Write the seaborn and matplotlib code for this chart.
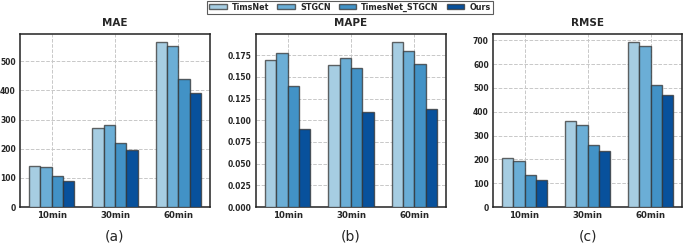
import numpy as np
import pandas as pd
import matplotlib
matplotlib.use("Agg")
import matplotlib.pyplot as plt
import seaborn as sns
from matplotlib.patches import Patch

horizons = ["10min", "30min", "60min"]
models = ["TimsNet", "STGCN", "TimesNet_STGCN", "Ours"]
colors = ["#a6cde2", "#6baed6", "#4292c6", "#08519c"]

mae_timsnet = [140, 270, 565]
mae_stgcn = [136, 282, 551]
mae_tstgcn = [105, 218, 439]
mae_ours = [90, 194, 390]

mape_timsnet = [0.170, 0.164, 0.190]
mape_stgcn = [0.178, 0.172, 0.180]
mape_tstgcn = [0.140, 0.160, 0.165]
mape_ours = [0.090, 0.110, 0.113]

rmse_timsnet = [205, 360, 692]
rmse_stgcn = [193, 344, 676]
rmse_tstgcn = [135, 260, 513]
rmse_ours = [113, 235, 470]

metrics = {
    "MAE": [mae_timsnet, mae_stgcn, mae_tstgcn, mae_ours],
    "MAPE": [mape_timsnet, mape_stgcn, mape_tstgcn, mape_ours],
    "RMSE": [rmse_timsnet, rmse_stgcn, rmse_tstgcn, rmse_ours],
}
panel_labels = ["(a)", "(b)", "(c)"]

sns.set_style("white")
plt.rcParams['font.family'] = ['DejaVu Sans']

fig = plt.figure(figsize=(6.85, 2.43), dpi=100)
lefts = [20, 256, 493]
rights = [210, 446, 682]
top_px, bot_px = 34, 207
W, H = 685, 243
edge = (0.2, 0.2, 0.2, 0.75)

for i, (name, series) in enumerate(metrics.items()):
    ax = fig.add_axes([lefts[i] / W, 1 - bot_px / H,
                       (rights[i] - lefts[i]) / W, (bot_px - top_px) / H])
    rows = []
    for m, vals in zip(models, series):
        for h, v in zip(horizons, vals):
            rows.append({"horizon": h, "model": m, "value": v})
    df = pd.DataFrame(rows)
    sns.barplot(data=df, x="horizon", y="value", hue="model", hue_order=models,
                order=horizons, palette=colors, saturation=1, width=0.72, ax=ax,
                edgecolor=edge, linewidth=1.0, legend=False,
                errorbar=None, zorder=3)
    ymax = max(max(s) for s in series)
    ax.set_ylim(0, ymax * 1.05)
    ax.set_xlim(-0.5, 2.5)
    ax.grid(True, linestyle="--", color="#c8c8c8", linewidth=0.7, zorder=0)
    ax.set_axisbelow(True)
    ax.set_xlabel("")
    ax.set_ylabel("")
    ax.set_title(name, fontsize=7.5, fontweight="bold", pad=6)
    for sp in ax.spines.values():
        sp.set_linewidth(1.1)
        sp.set_color("#222222")
    ax.tick_params(axis="both", labelsize=5.5, length=0, pad=3)
    for lbl in ax.get_xticklabels() + ax.get_yticklabels():
        lbl.set_fontweight("bold")
    ax.tick_params(axis="x", labelsize=6.2)
    cx = (lefts[i] + rights[i]) / 2 / W
    fig.text(cx, 1 - 236 / H, panel_labels[i], ha="center", va="center", fontsize=10)

handles = [Patch(facecolor=c, edgecolor=edge, linewidth=1.0) for c in colors]
leg = fig.legend(handles, models, loc="upper center", bbox_to_anchor=(350 / W, 0.997),
                 ncol=4, frameon=True, fancybox=False, edgecolor="#333333",
                 prop={"size": 5.8, "weight": "bold"}, handlelength=2.2, handleheight=0.6,
                 columnspacing=1.0, borderpad=0.25, handletextpad=0.6, borderaxespad=0)
leg.get_frame().set_linewidth(0.8)

fig.savefig("out.png", dpi=100)
